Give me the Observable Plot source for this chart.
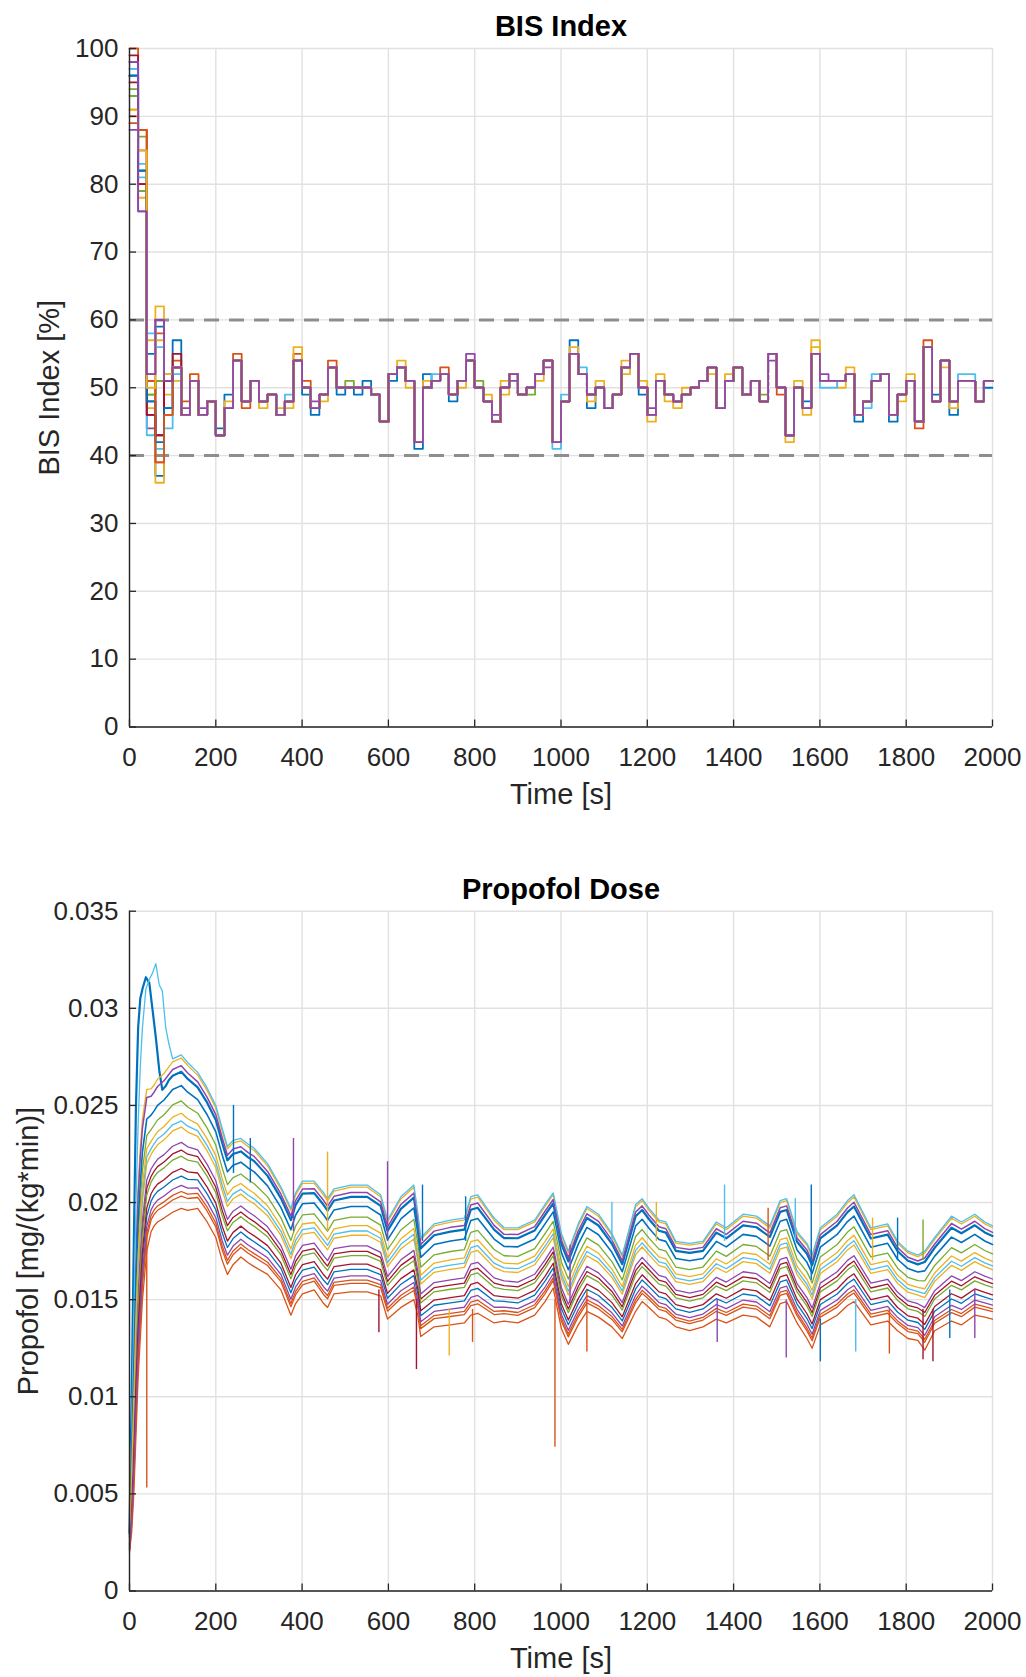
<!DOCTYPE html>
<html><head><meta charset="utf-8">
<script src="https://cdn.jsdelivr.net/npm/d3@7"></script>
<script src="https://cdn.jsdelivr.net/npm/@observablehq/plot@0.6"></script>
<style>
body{margin:0;background:#fff;}
#fig{position:relative;width:1026px;height:1677px;background:#fff;overflow:hidden;}
#fig svg{position:absolute;left:0;}
</style></head><body><div id="fig"></div>
<script>
// ---------- shared ----------
const lineColors = ["#0072BD","#D95319","#EDB120","#8E46AE","#77AC30","#4DBEEE","#A2142F"];
const timeTicks = [0,200,400,600,800,1000,1200,1400,1600,1800,2000];
const timeDomain = [0, 2000];

// ---------- BIS data ----------
const bisTicks = [0,10,20,30,40,50,60,70,80,90,100];
const bisBounds = [40, 60];
const bisStep = 20; // seconds per step
const bisMain = [98,76,52,60,51,53,46,51,46,48,
  43,47,54,48,51,48,49,46,48,54,
  50,47,49,53,50,50,50,50,49,45,
  52,53,51,42,50,51,52,49,51,54,
  50,48,45,50,52,49,50,52,54,42,
  48,55,52,49,50,47,49,53,55,50,
  46,51,49,48,49,50,51,53,47,51,
  53,49,51,48,55,50,43,50,47,55,
  51,51,51,52,46,48,51,52,46,49,
  51,45,56,48,54,48,51,51,48,51];
// first six steps of the other 17 series
const bisEarly = [
  [96,82,48,37,47,57],
  [100,88,51,39,46,54],
  [91,78,47,36,49,51],
  [88,85,44,51,51,53],
  [94,87,49,51,51,53],
  [97,83,43,41,44,52],
  [99,80,46,43,51,55],
  [96,82,55,59,51,53],
  [90,88,51,58,51,53],
  [91,85,57,62,52,53],
  [98,76,52,60,51,53],
  [93,79,49,51,51,53],
  [97,81,58,56,52,53],
  [95,80,46,43,51,53],
  [96,82,48,42,47,53],
  [89,88,51,39,46,53],
  [91,85,50,57,52,53]
];
// later deviations from the main trace: [series, step, value]
const bisDev = [
  [3,6,47],[3,8,47],[3,21,48],[3,39,55],[3,42,46],[3,44,51],[3,48,53],[3,60,47],[3,74,54],[3,80,52],
  [1,6,48],[1,7,52],[1,12,55],[1,13,47],[1,19,55],[1,20,51],[1,23,54],[1,36,53],[1,75,49],[1,91,44],[1,92,57],
  [0,10,44],[0,11,49],[0,20,49],[0,21,46],[0,24,49],[0,26,49],[0,27,51],[0,30,51],[0,33,41],[0,34,52],[0,37,48],
  [0,51,57],[0,53,47],[0,59,49],[0,78,48],[0,84,45],[0,88,45],[0,93,49],[0,95,46],[0,99,50],
  [2,11,48],[2,15,47],[2,17,47],[2,18,47],[2,19,56],[2,22,48],[2,31,54],[2,32,50],[2,34,51],[2,38,50],[2,41,49],
  [2,43,51],[2,47,51],[2,51,56],[2,53,48],[2,54,51],[2,57,54],[2,59,51],[2,60,45],[2,61,52],[2,62,48],[2,63,47],
  [2,64,50],[2,67,52],[2,69,52],[2,76,42],[2,77,51],[2,78,46],[2,79,57],[2,82,50],[2,83,53],[2,89,48],[2,90,52],
  [2,94,53],[2,95,47],
  [9,43,49],[9,57,52],[9,79,56],
  [4,25,51],[4,40,51],[4,46,49],[4,73,49],
  [5,18,49],[5,35,52],[5,49,41],[5,50,49],[5,52,53],[5,80,50],[5,81,50],[5,85,47],[5,86,52],[5,96,52],[5,97,52]
];

// ---------- Propofol data ----------
const propTicks = [0,0.005,0.01,0.015,0.02,0.025,0.03,0.035];
const propT = [0,5,10,15,20,25,30,40,50,57,65,80,100,120,135,158,180,200,215,227,240,258,275,289,320,351,374,385,401,428,
  450,459,474,513,551,582,598,629,659,668,675,706,744,776,791,807,845,868,900,939,963,982,1001,1017,1040,1060,1087,1118,1142,1173,
  1188,1204,1227,1243,1266,1298,1329,1360,1383,1422,1453,1484,1508,1523,1547,1570,1582,1601,1640,1664,1679,1718,1757,1780,1804,1827,1843,1866,1905,1928,
  1959,1982,2000];
const propTop = [.003,.008,.013,.018,.021,.023,.0245,.026,.026,.0262,.0265,.0268,.0274,.0276,.0272,.0267,.0259,.0250,.0238,.0229,
  .0232,.0233,.0230,.0228,.0220,.0208,.0197,.0205,.0211,.0211,.0205,.0202,.0207,.0209,.0209,.0204,.0191,.0203,.0209,.0195,
  .0182,.0189,.0191,.0192,.0203,.0204,.0192,.0187,.0187,.0191,.0199,.0205,.0184,.0175,.0189,.0198,.0194,.0184,.0173,.0199,
  .0202,.0197,.0191,.0190,.0180,.0179,.0180,.0190,.0187,.0194,.0193,.0188,.0201,.0202,.0185,.0179,.0173,.0187,.0194,.0201,
  .0204,.0187,.0189,.0180,.0175,.0173,.0175,.0182,.0193,.0190,.0194,.0190,.0188];
const propBot = [.002,.003,.005,.008,.011,.013,.015,.0175,.0185,.0188,.019,.0192,.0195,.0197,.0196,.0197,.019,.0182,.017,.0163,
  .0168,.0172,.0169,.0167,.0163,.0155,.0142,.0148,.0153,.0155,.0148,.0146,.0153,.0154,.0154,.0152,.014,.0146,.015,.0142,
  .0131,.0136,.0137,.0138,.0142,.0143,.0138,.0139,.0138,.0142,.0149,.0156,.0135,.0127,.0137,.0144,.0141,.0136,.013,.0144,
  .0149,.0146,.0141,.014,.0136,.0134,.0136,.014,.0138,.0142,.0141,.0136,.0148,.0149,.0138,.013,.0125,.0137,.0142,.0147,
  .0149,.0137,.0139,.0134,.013,.0129,.0124,.0134,.0139,.0137,.0142,.0141,.014];
// each series' position in the band (0 = lowest trace, 1 = highest trace)
const propLevel = [0.89,0.11,0.98,0.93,0.70,1.00,0.38,0.21,0.08,0.53,0.43,0.34,0.57,0.26,0.80,0.00,0.62,0.15];
const propWidth = [2.2,1.3,1.3,1.5,1.3,1.3,1.3,1.3,1.3,1.3,1.3,1.3,1.3,1.3,1.6,1.3,1.3,1.3];
// early overshoot of the two highest-dosed traces (first 100 s)
const propEarlyT     = [0,5,10,15,20,25,30,38,46,53,61,69,76,84,91];
const propEarlyBlue  = [.003,.010,.018,.025,.029,.0305,.031,.0316,.0313,.030,.0285,.0268,.0258,.0260,.0263];
const propEarlyLblue = [.003,.008,.014,.020,.024,.027,.029,.031,.0315,.0318,.0323,.0312,.0309,.029,.0282];
const propEarlySeries = [0, 5];
// single-sample spikes
const spikeT    = [40,241,280,380,459,578,598,665,679,741,779,795,986,1021,1060,1118,1221,1362,1379,1480,1522,1543,1580,1601,1683,1722,1761,1780,1839,1839,1862,1901,1959];
const spikeFrom = [.0185,.0215,.021,.0185,.0185,.0155,.018,.015,.018,.0145,.018,.0145,.015,.0178,.0155,.018,.018,.015,.018,.017,.015,.018,.016,.014,.015,.017,.0145,.017,.0145,.017,.0145,.0155,.0155];
const spikeTo   = [.0053,.025,.0233,.0233,.0226,.0133,.0221,.0114,.0209,.0121,.0203,.0128,.0074,.0148,.0123,.020,.020,.0128,.0209,.0197,.012,.0202,.0209,.0118,.0123,.0192,.0122,.0192,.0119,.0191,.0118,.013,.013];
const spikeColor= [1,0,0,3,2,6,3,6,0,2,0,1,1,3,1,5,2,3,5,1,3,5,0,0,5,2,1,0,6,4,6,0,3];

// ---------- build ----------
const FONT = "'Liberation Sans', Arial, Helvetica, sans-serif";
const AX = "#262626";
const GRID = "#e1e1e1";

const bisSeries = [];
for (let i = 0; i < bisEarly.length; i++) {
  const vals = bisMain.slice();
  bisEarly[i].forEach((v, s) => vals[s] = v);
  bisDev.filter(d => d[0] === i).forEach(d => vals[d[1]] = d[2]);
  bisSeries.push({color: lineColors[i % 7], vals});
}
bisSeries.push({color: lineColors[bisEarly.length % 7], vals: bisMain});
const stairs = vals => {
  const pts = vals.map((v, s) => ({t: s * bisStep, v}));
  pts.push({t: vals.length * bisStep, v: vals[vals.length - 1]});
  return pts;
};

function axesMarks(yTicks, yFmt) {
  return [
    Plot.ruleX([timeDomain[0]], {stroke: AX, strokeWidth: 1.4}),
    Plot.ruleY([0], {stroke: AX, strokeWidth: 1.4}),
    Plot.axisX(timeTicks, {tickSize: 0, tickPadding: 21, tickFormat: d => String(d), fontSize: 26, fill: AX, label: null}),
    Plot.axisX(timeTicks, {tickSize: 7, dy: -7, tickFormat: () => "", stroke: AX, strokeWidth: 1.3, label: null}),
    Plot.axisY(yTicks, {tickSize: 0, tickPadding: 11, tickFormat: yFmt, fontSize: 26, fill: AX, label: null}),
    Plot.axisY(yTicks, {tickSize: 7, dx: 7, tickFormat: () => "", stroke: AX, strokeWidth: 1.3, label: null})
  ];
}

const topPlot = Plot.plot({
  width: 1026, height: 840,
  marginTop: 48, marginBottom: 113.5, marginLeft: 129, marginRight: 34,
  style: {fontFamily: FONT, fontSize: "26px", color: AX, background: "transparent", overflow: "visible"},
  x: {domain: timeDomain, label: null},
  y: {domain: [0, 100], label: null},
  marks: [
    Plot.gridX(timeTicks, {stroke: GRID, strokeOpacity: 1, strokeWidth: 1.4}),
    Plot.gridY(bisTicks, {stroke: GRID, strokeOpacity: 1, strokeWidth: 1.4}),
    Plot.ruleY(bisBounds, {stroke: "#8e8e8e", strokeWidth: 3, strokeDasharray: "15,10"}),
    ...bisSeries.map(s => Plot.line(stairs(s.vals), {x: "t", y: "v", curve: "step-after", stroke: s.color, strokeWidth: 1.8})),
    ...axesMarks(bisTicks, d => String(d)),
    Plot.text(["BIS Index"], {text: d => d, frameAnchor: "top", textAnchor: "middle", lineAnchor: "top", dy: -33, fontWeight: "bold", fontSize: 29, fill: "#000"}),
    Plot.text(["Time [s]"], {text: d => d, frameAnchor: "bottom", textAnchor: "middle", lineAnchor: "top", dy: 56, fontSize: 29, fill: AX}),
    Plot.text(["BIS Index [%]"], {text: d => d, frameAnchor: "left", textAnchor: "middle", lineAnchor: "middle", rotate: -90, dx: -80, fontSize: 29, fill: AX})
  ]
});

const propSeries = propLevel.map((w, i) => {
  const ei = propEarlySeries.indexOf(i);
  let pts = propT.map((t, k) => ({t, v: propBot[k] + w * (propTop[k] - propBot[k])}));
  if (ei >= 0) {
    const early = ei === 0 ? propEarlyBlue : propEarlyLblue;
    pts = propEarlyT.map((t, k) => ({t, v: early[k]})).concat(pts.filter(p => p.t >= 100));
  }
  return {color: lineColors[i % 7], width: propWidth[i], pts};
});
const spikes = spikeT.map((t, i) => ({t, a: spikeFrom[i], b: spikeTo[i], c: lineColors[spikeColor[i]]}));

const botPlot = Plot.plot({
  width: 1026, height: 837,
  marginTop: 70.7, marginBottom: 86.5, marginLeft: 129, marginRight: 34,
  style: {fontFamily: FONT, fontSize: "26px", color: AX, background: "transparent", overflow: "visible"},
  x: {domain: timeDomain, label: null},
  y: {domain: [0, 0.035], label: null},
  marks: [
    Plot.gridX(timeTicks, {stroke: GRID, strokeOpacity: 1, strokeWidth: 1.4}),
    Plot.gridY(propTicks, {stroke: GRID, strokeOpacity: 1, strokeWidth: 1.4}),
    ...propSeries.map(s => Plot.line(s.pts, {x: "t", y: "v", stroke: s.color, strokeWidth: s.width})),
    Plot.ruleX(spikes, {x: "t", y1: "a", y2: "b", stroke: "c", strokeWidth: 1.4}),
    ...axesMarks(propTicks, d => String(d)),
    Plot.text(["Propofol Dose"], {text: d => d, frameAnchor: "top", textAnchor: "middle", lineAnchor: "top", dy: -33, fontWeight: "bold", fontSize: 29, fill: "#000"}),
    Plot.text(["Time [s]"], {text: d => d, frameAnchor: "bottom", textAnchor: "middle", lineAnchor: "top", dy: 56, fontSize: 29, fill: AX}),
    Plot.text(["Propofol [mg/(kg*min)]"], {text: d => d, frameAnchor: "left", textAnchor: "middle", lineAnchor: "middle", rotate: -90, dx: -101, fontSize: 29, fill: AX})
  ]
});

const fig = document.getElementById("fig");
topPlot.style.top = "0px";
botPlot.style.top = "840px";
fig.appendChild(topPlot);
fig.appendChild(botPlot);
</script>
</body></html>
